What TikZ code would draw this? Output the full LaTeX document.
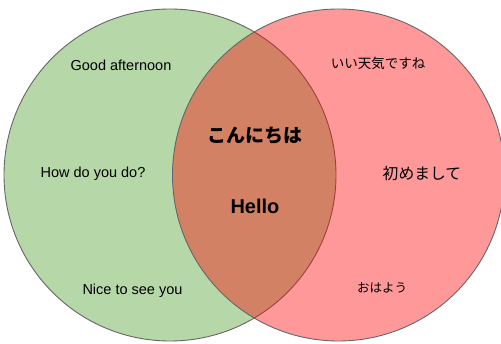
\documentclass[tikz,border=0pt]{standalone}
\usepackage{fontspec}
\setmainfont{Liberation Sans}
\newfontfamily\jp{Noto Sans CJK JP}
\definecolor{vgreen}{HTML}{B6D7A8}
\definecolor{vedge}{HTML}{666666}
\begin{document}
\begin{tikzpicture}[x=1pt,y=1pt,
  circ/.style={draw=vedge,line width=0.9pt},
  lbl/.style={inner sep=0pt,anchor=center,text=black}]
\useasboundingbox (0,0) rectangle (501,343);
\clip (0,0) rectangle (501,343);
\fill[vgreen] (170,168) circle (166);
\draw[circ] (170,168) circle (166);
\fill[red,fill opacity=0.4] (338.5,168) circle (166);
\draw[circ] (338.5,168) circle (166);
\node[lbl,font=\fontsize{14.5}{16}\selectfont] (ga) at (121,278) {Good afternoon};
\node[lbl,font=\fontsize{14.5}{16}\selectfont] (hd) at (93,169) {How do you do?};
\node[lbl,font=\fontsize{14.5}{16}\selectfont] (ns) at (132.5,52) {Nice to see you};
\node[lbl,font=\jp\fontsize{13.5}{15}\selectfont] (it) at (378,279.5) {いい天気ですね};
\node[lbl,font=\jp\fontsize{15.8}{17}\selectfont] (hj) at (422,169) {初めまして};
\node[lbl,font=\jp\fontsize{12.5}{14}\selectfont] (oh) at (382,55) {おはよう};
\node[lbl,font=\jp\bfseries\fontsize{19}{21}\selectfont] (kn) at (255,207) {こんにちは};
\node[lbl,font=\bfseries\fontsize{20}{22}\selectfont] (he) at (255,137) {Hello};
\end{tikzpicture}
\end{document}
